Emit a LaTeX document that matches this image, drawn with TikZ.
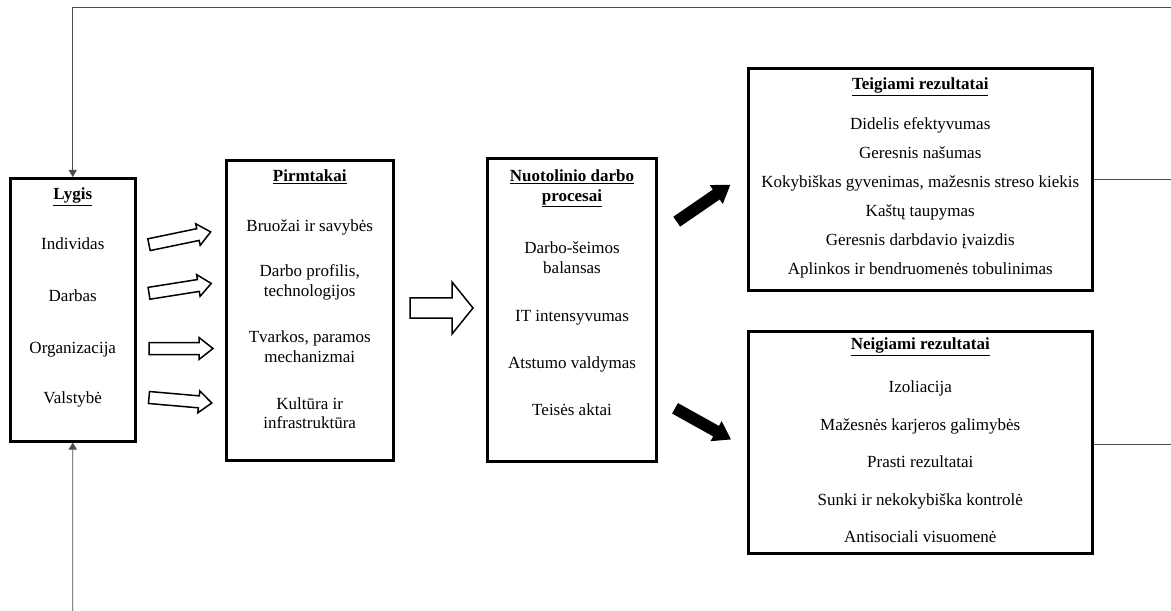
\documentclass[tikz,border=0pt]{standalone}
\usepackage{fontspec}
\setmainfont{Liberation Serif}
\usetikzlibrary{arrows.meta}

\begin{document}
\begin{tikzpicture}[x=1bp,y=-1bp,
  txt/.style={font=\fontsize{17bp}{19.5bp}\selectfont, inner sep=0pt, align=center, anchor=base},
  panel/.style={draw=black, line width=3bp, rectangle, inner sep=0pt, anchor=north west},
  feed/.style={draw=black!70, line width=0.8bp},
  feedtip/.style={-{Triangle[width=8bp,length=7bp]}},
  hollow/.style={draw=black, line width=1.5bp, fill=white, line join=miter},
  bold arrow/.style={fill=black, draw=none}
]
\useasboundingbox (0,0) rectangle (1171,611);

% ---- framed panels ----
\node[panel, minimum width=124.5bp, minimum height=262.5bp] (lygis) at (9,177) {};
\node[panel, minimum width=166.5bp, minimum height=300bp]   (pirm)  at (225,159) {};
\node[panel, minimum width=169bp,   minimum height=302bp]   (proc)  at (486,157.5) {};
\node[panel, minimum width=343.5bp, minimum height=222bp]   (teig)  at (747,67) {};
\node[panel, minimum width=343.5bp, minimum height=222.5bp] (neig)  at (747,329.5) {};

% ---- level column ----
\node[txt] (lyg0) at (72.75,200) {\underline{\textbf{Lygis}}};
\node[txt] (lyg1) at (72.75,250) {Individas};
\node[txt] (lyg2) at (72.75,302) {Darbas};
\node[txt] (lyg3) at (72.75,353) {Organizacija};
\node[txt] (lyg4) at (72.75,403) {Valstybė};

% ---- antecedents (two-line entries are placed by their last baseline) ----
\node[txt] (pir0) at (309.75,182) {\underline{\textbf{Pirmtakai}}};
\node[txt] (pir1) at (309.75,232) {Bruožai ir savybės};
\node[txt] (pir2) at (309.75,296.5) {Darbo profilis,\\technologijos};
\node[txt] (pir3) at (309.75,362.5) {Tvarkos, paramos\\mechanizmai};
\node[txt] (pir4) at (309.75,428.5) {Kultūra ir\\infrastruktūra};

% ---- remote work processes ----
\node[txt] (pro0) at (572,201.5) {\underline{\textbf{Nuotolinio darbo}}\\\underline{\textbf{procesai}}};
\node[txt] (pro1) at (572,273.5) {Darbo-šeimos\\balansas};
\node[txt] (pro2) at (572,322) {IT intensyvumas};
\node[txt] (pro3) at (572,368) {Atstumo valdymas};
\node[txt] (pro4) at (572,415) {Teisės aktai};

% ---- positive outcomes ----
\node[txt] (tei0) at (920.25,90)  {\underline{\textbf{Teigiami rezultatai}}};
\node[txt] (tei1) at (920.25,130) {Didelis efektyvumas};
\node[txt] (tei2) at (920.25,159) {Geresnis našumas};
\node[txt] (tei3) at (920.25,188) {Kokybiškas gyvenimas, mažesnis streso kiekis};
\node[txt] (tei4) at (920.25,217) {Kaštų taupymas};
\node[txt] (tei5) at (920.25,246) {Geresnis darbdavio įvaizdis};
\node[txt] (tei6) at (920.25,275) {Aplinkos ir bendruomenės tobulinimas};

% ---- negative outcomes ----
\node[txt] (nei0) at (920.25,350) {\underline{\textbf{Neigiami rezultatai}}};
\node[txt] (nei1) at (920.25,392) {Izoliacija};
\node[txt] (nei2) at (920.25,430) {Mažesnės karjeros galimybės};
\node[txt] (nei3) at (920.25,467) {Prasti rezultatai};
\node[txt] (nei4) at (920.25,505) {Sunki ir nekokybiška kontrolė};
\node[txt] (nei5) at (920.25,542) {Antisociali visuomenė};

% ---- outline arrows from levels to antecedents ----
\draw[hollow, shift={(149,244.7)}, rotate=11.7]
  (0,-6) -- (50,-6) -- (50,-11) -- (63,0) -- (50,11) -- (50,6) -- (0,6) -- cycle;
\draw[hollow, shift={(149,293.3)}, rotate=9]
  (0,-6) -- (50,-6) -- (50,-11) -- (63,0) -- (50,11) -- (50,6) -- (0,6) -- cycle;
\draw[hollow, shift={(149,348.5)}]
  (0,-6) -- (50,-6) -- (50,-11) -- (64,0) -- (50,11) -- (50,6) -- (0,6) -- cycle;
\draw[hollow, shift={(149,397.5)}, rotate=-5]
  (0,-6) -- (50,-6) -- (50,-11) -- (63,0) -- (50,11) -- (50,6) -- (0,6) -- cycle;

% ---- outline arrow into the processes ----
\draw[hollow, shift={(410,308)}]
  (0,-10) -- (42,-10) -- (42,-26) -- (63,0) -- (42,26) -- (42,10) -- (0,10) -- cycle;

% ---- solid arrows to the outcomes ----
\fill[bold arrow, shift={(676.7,221.7)}, rotate=34.5]
  (0,-6) -- (48,-6) -- (48,-11.5) -- (65,0) -- (48,11.5) -- (48,6) -- (0,6) -- cycle;
\fill[bold arrow, shift={(675,408.3)}, rotate=-29.1]
  (0,-6) -- (47,-6) -- (47,-11.5) -- (64,0) -- (47,11.5) -- (47,6) -- (0,6) -- cycle;

% ---- feedback loop lines ----
\coordinate (fbtop) at (1171,7.7);
\coordinate (fbbot) at (72.75,611);
\coordinate (teigend) at (1171,179.5);
\coordinate (neigend) at (1171,444.5);
\draw[feed, feedtip] (fbtop) -- (lygis.north |- fbtop) -- (lygis.north);
\draw[feed, feedtip] (fbbot) -- (lygis.south);
\draw[feed] (teig.east) -- (teigend);
\draw[feed] (neig.east |- neigend) -- (neigend);
\end{tikzpicture}
\end{document}
